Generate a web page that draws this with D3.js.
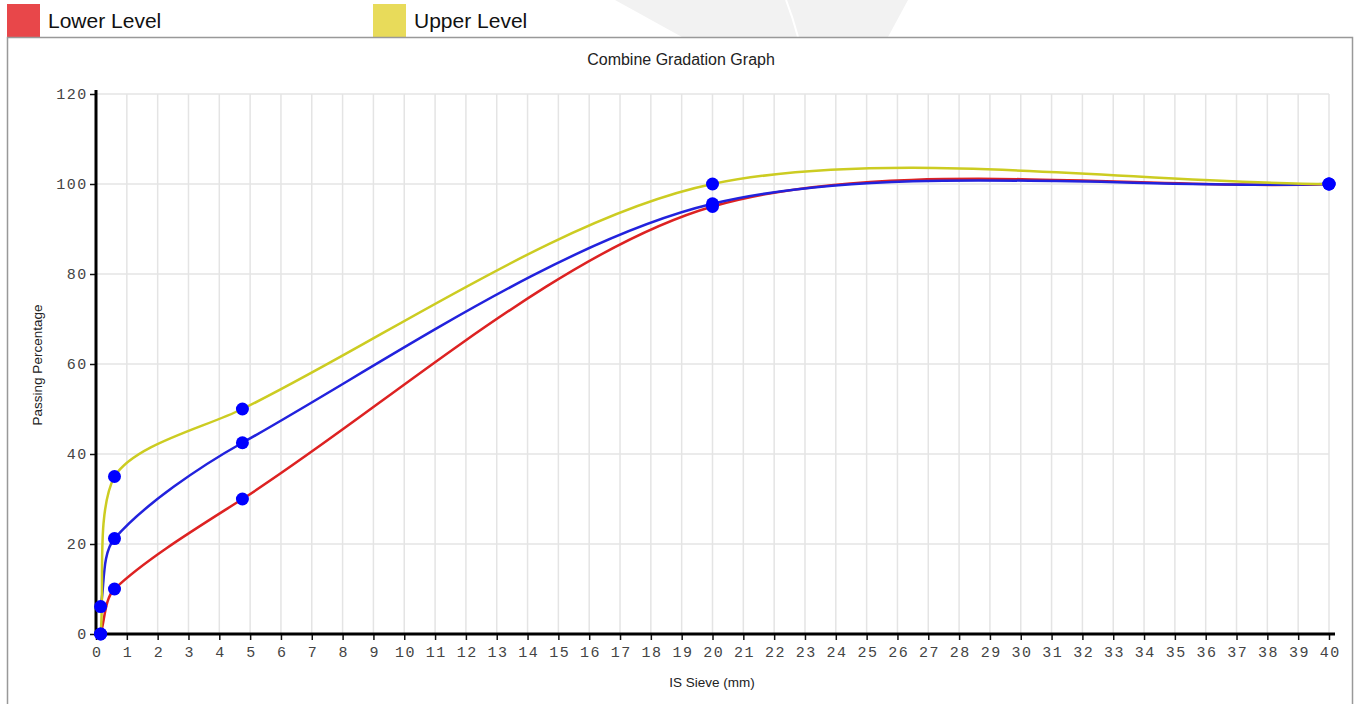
<!DOCTYPE html>
<html>
<head>
<meta charset="utf-8">
<script src="https://cdn.jsdelivr.net/npm/d3@7"></script>
<style>
  html, body { margin: 0; padding: 0; background: #fff; }
  svg { display: block; }
</style>
</head>
<body>
<svg id="chart" width="1356" height="704"></svg>
<script>
// ---- data ----
const sieves = [0.15, 0.6, 4.75, 20, 40];
const lowerLevel = [0, 10, 30, 95, 100];
const upperLevel = [0, 35, 50, 100, 100];
const combined = [6.1, 21.2, 42.5, 95.6, 100];
const xTicks = d3.range(0, 41, 1);
const yTicks = [0, 20, 40, 60, 80, 100, 120];
const legendLabels = ["Lower Level", "Upper Level"];

const svg = d3.select("#chart");

// watermark in background
svg.append("path")
  .attr("d", "M615,0 L682,37 L888,37 L908,0 Z")
  .attr("fill", "#f2f2f2");
svg.append("path")
  .attr("d", "M786,0 Q793,18 798,37")
  .attr("fill", "none").attr("stroke", "#fff").attr("stroke-width", 2);

// legend
const legendColors = ["#e8474a", "#e8db5a"];
const legendX = [7, 373];
legendLabels.forEach((lab, i) => {
  svg.append("rect").attr("x", legendX[i]).attr("y", 4).attr("width", 33).attr("height", 33)
    .attr("fill", legendColors[i]);
  svg.append("text").attr("x", legendX[i] + 41).attr("y", 28)
    .attr("font-family", "Liberation Sans, Arial, sans-serif").attr("font-size", 21)
    .attr("fill", "#111").text(lab);
});

// container
svg.append("rect").attr("x", 7.5).attr("y", 37.5).attr("width", 1345).attr("height", 700)
  .attr("fill", "#fff").attr("stroke", "#999").attr("stroke-width", 1.5);

// scales
const x = d3.scaleLinear().domain([0, 40]).range([96, 1329]);
const y = d3.scaleLinear().domain([0, 120]).range([634, 94]);

// grid
const g = svg.append("g");
g.selectAll("line.vg").data(xTicks.filter(d => d > 0)).enter().append("line")
  .attr("x1", d => x(d)).attr("x2", d => x(d)).attr("y1", y(120)).attr("y2", y(0))
  .attr("stroke", "#e4e4e4").attr("stroke-width", 1.5);
g.selectAll("line.hg").data(yTicks.filter(d => d > 0)).enter().append("line")
  .attr("x1", x(0)).attr("x2", x(40)).attr("y1", d => y(d)).attr("y2", d => y(d))
  .attr("stroke", "#e4e4e4").attr("stroke-width", 1.5);

// title & axis titles
svg.append("text").attr("x", 681).attr("y", 65).attr("text-anchor", "middle")
  .attr("font-family", "Liberation Sans, Arial, sans-serif").attr("font-size", 16)
  .attr("fill", "#222").text("Combine Gradation Graph");
svg.append("text").attr("transform", "translate(42,365) rotate(-90)").attr("text-anchor", "middle")
  .attr("font-family", "Liberation Sans, Arial, sans-serif").attr("font-size", 13.5)
  .attr("fill", "#222").text("Passing Percentage");
svg.append("text").attr("x", 712).attr("y", 687).attr("text-anchor", "middle")
  .attr("font-family", "Liberation Sans, Arial, sans-serif").attr("font-size", 13.5)
  .attr("fill", "#222").text("IS Sieve (mm)");

// axes
const xAxis = d3.axisBottom(x).tickValues(xTicks).tickSize(6).tickSizeOuter(0).tickFormat(d3.format("d"));
const yAxis = d3.axisLeft(y).tickValues(yTicks).tickSize(6).tickSizeOuter(0).tickFormat(d3.format("d"));
const gx = svg.append("g").attr("transform", `translate(0,${y(0)})`).call(xAxis);
const gy = svg.append("g").attr("transform", `translate(${x(0)},0)`).call(yAxis);
[gx, gy].forEach(a => {
  a.select(".domain").remove();
  a.selectAll(".tick line").attr("stroke", "#111").attr("stroke-width", 1.5);
  a.selectAll(".tick text").attr("font-family", "Liberation Mono, Courier New, monospace")
    .attr("font-size", 15).attr("fill", "#444").attr("letter-spacing", "1.5px");
});
gx.selectAll(".tick text").attr("dy", "0.95em").attr("dx", "0.05em");
gy.selectAll(".tick text").attr("dx", "0.05em");
svg.append("line").attr("x1", x(0)).attr("x2", x(0)).attr("y1", 90).attr("y2", y(0) + 1.5)
  .attr("stroke", "#000").attr("stroke-width", 3);
svg.append("line").attr("x1", x(0) - 1.5).attr("x2", 1335).attr("y1", y(0)).attr("y2", y(0))
  .attr("stroke", "#000").attr("stroke-width", 3);

// spline curve (distance-weighted control points, capped to the plot area)
function splineCurve(tension, x0, x1, y0, y1) {
  return function(context) {
    let pts = [];
    return {
      areaStart() {}, areaEnd() {},
      lineStart() { pts = []; },
      point(px, py) { pts.push([+px, +py]); },
      lineEnd() {
        const n = pts.length;
        if (!n) return;
        const cps = pts.map((cur, i) => {
          const prev = pts[i - 1] || cur, next = pts[i + 1] || cur;
          const d01 = Math.hypot(cur[0] - prev[0], cur[1] - prev[1]);
          const d12 = Math.hypot(next[0] - cur[0], next[1] - cur[1]);
          let s01 = d01 / (d01 + d12), s12 = d12 / (d01 + d12);
          if (!isFinite(s01)) s01 = 0;
          if (!isFinite(s12)) s12 = 0;
          const fa = tension * s01, fb = tension * s12;
          const cl = (v, a, b) => Math.max(a, Math.min(b, v));
          return {
            p: [cl(cur[0] - fa * (next[0] - prev[0]), x0, x1), cl(cur[1] - fa * (next[1] - prev[1]), y0, y1)],
            n: [cl(cur[0] + fb * (next[0] - prev[0]), x0, x1), cl(cur[1] + fb * (next[1] - prev[1]), y0, y1)]
          };
        });
        context.moveTo(pts[0][0], pts[0][1]);
        for (let i = 1; i < n; i++) {
          context.bezierCurveTo(cps[i - 1].n[0], cps[i - 1].n[1], cps[i].p[0], cps[i].p[1], pts[i][0], pts[i][1]);
        }
      }
    };
  };
}

// lines
const line = d3.line().x(d => x(d[0])).y(d => y(d[1]))
  .curve(splineCurve(0.3, x(0), x(40), y(120), y(0)));
const series = [
  { vals: lowerLevel, color: "#dd2222" },
  { vals: combined, color: "#2222dd" },
  { vals: upperLevel, color: "#cccc22" }
];
series.forEach(s => {
  const pts = sieves.map((sv, i) => [sv, s.vals[i]]);
  svg.append("path").datum(pts).attr("d", line).attr("fill", "none")
    .attr("stroke", s.color).attr("stroke-width", 2.5);
});
series.forEach(s => {
  svg.selectAll(null).data(sieves.map((sv, i) => [sv, s.vals[i]])).enter().append("circle")
    .attr("cx", d => x(d[0])).attr("cy", d => y(d[1])).attr("r", 6.5).attr("fill", "#0000ff");
});
</script>
</body>
</html>
